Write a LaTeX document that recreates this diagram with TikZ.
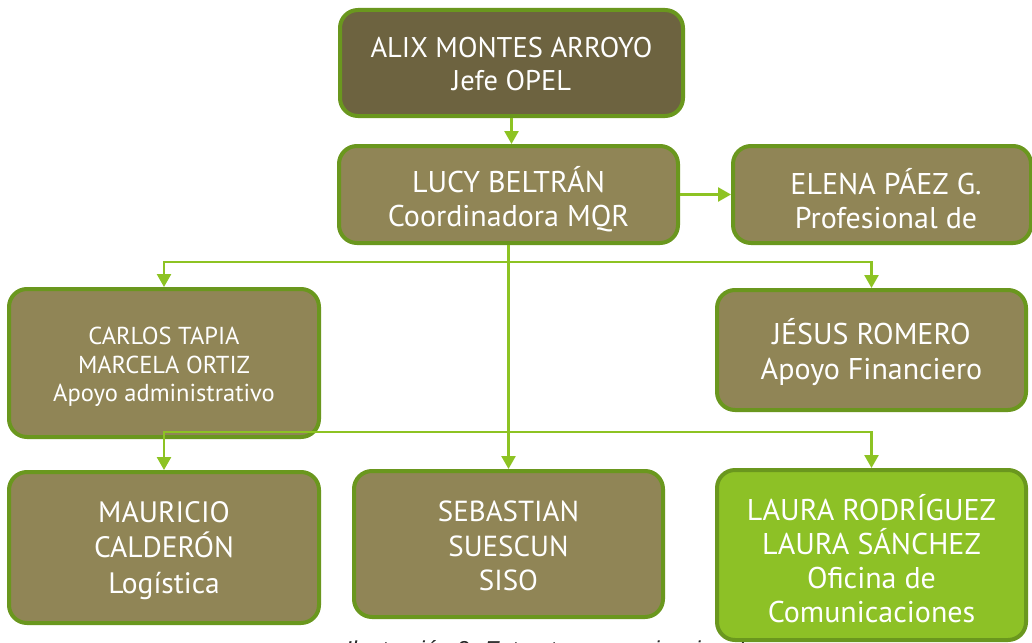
\documentclass[tikz,border=0pt]{standalone}
\usepackage{fontspec}
\setmainfont{PT Sans}
\newfontfamily\capfont{Liberation Sans}
\usetikzlibrary{arrows.meta}
\definecolor{olivefill}{RGB}{144,133,86}
\definecolor{darkfill}{RGB}{109,99,64}
\definecolor{bordergreen}{RGB}{106,151,30}
\definecolor{limeline}{RGB}{141,195,35}
\definecolor{limefill}{RGB}{141,193,38}
\tikzset{
  box/.style={draw=bordergreen, line width=4pt, rounded corners=18pt, fill=olivefill, inner sep=0pt},
  txt/.style={text=white, align=center, inner sep=0pt},
  arr/.style={draw=limeline, line width=2.5pt, -{Triangle[width=14pt,length=13pt]}},
  fs/.style n args={2}{font=\fontsize{#1}{#2}\selectfont}
}
\begin{document}
\begin{tikzpicture}[x=1pt,y=-1pt]
\useasboundingbox (0,0) rectangle (1032,642);
\clip (0,0) rectangle (1032,642);
\fill[white] (0,0) rectangle (1032,642);

\node[anchor=base west, text=black!85, font=\capfont\itshape\fontsize{23}{27}\selectfont] (cap) at (342,657) {Ilustración 2: Estructura organizacional};

% boxes
\node[box, fill=darkfill, minimum width=343pt, minimum height=106pt] (alix) at (511.5,63) {};
\node[box, minimum width=339pt, minimum height=97pt] (lucy) at (508.5,194.5) {};
\node[box, minimum width=298pt, minimum height=97pt] (elena) at (882,194.5) {};
\node[box, minimum width=310pt, minimum height=148pt] (carlos) at (164,363) {};
\node[box, minimum width=309pt, minimum height=120pt] (jesus) at (871.5,350) {};
\node[box, minimum width=310pt, minimum height=151pt] (mauricio) at (164,547.5) {};
\node[box, minimum width=309pt, minimum height=146pt] (sebastian) at (508.5,544) {};
\node[box, fill=limefill, minimum width=309pt, minimum height=170pt] (laura) at (871.5,555) {};

% texts
\node[txt, fs={28.5}{33}] (alixT) at ([yshift=-1pt]alix.center) {ALIX MONTES ARROYO\\Jefe OPEL};
\node[txt, fs={30}{34}] (lucyT) at ([yshift=-4.5pt]lucy.center) {LUCY BELTRÁN\\Coordinadora MQR};
\node[txt, fs={30}{34}] (elenaT) at ([xshift=4pt,yshift=-4.5pt]elena.center) {ELENA PÁEZ G.\\Profesional de};
\node[txt, fs={24.5}{28.5}] (carlosT) at ([yshift=-4pt]carlos.center) {CARLOS TAPIA\\MARCELA ORTIZ\\Apoyo administrativo};
\node[txt, fs={30}{35}] (jesusT) at ([yshift=-2pt]jesus.center) {JÉSUS ROMERO\\Apoyo Financiero};
\node[txt, fs={29.5}{35.5}] (mauricioT) at ([yshift=-3pt]mauricio.center) {MAURICIO\\CALDERÓN\\Logística};
\node[txt, fs={29}{34.5}] (sebastianT) at ([yshift=-2pt]sebastian.center) {SEBASTIAN\\SUESCUN\\SISO};
\node[txt, fs={30}{34}] (lauraT) at ([yshift=-4pt]laura.center) {LAURA RODRÍGUEZ\\LAURA SÁNCHEZ\\Oficina de\\Comunicaciones};

% connectors
\coordinate (b1) at (508.5,262);
\coordinate (b2) at (508.5,432);
\draw[arr] (alix.south) -- (alix.south |- lucy.north);
\draw[arr] (lucy.east) -- (elena.west);
\draw[arr] (lucy.south) -- (sebastian.north);
\draw[arr] (b1) -| (carlos.north);
\draw[arr] (b1) -| (jesus.north);
\draw[arr] (b2) -| (mauricio.north);
\draw[arr] (b2) -| (laura.north);
\end{tikzpicture}
\end{document}
